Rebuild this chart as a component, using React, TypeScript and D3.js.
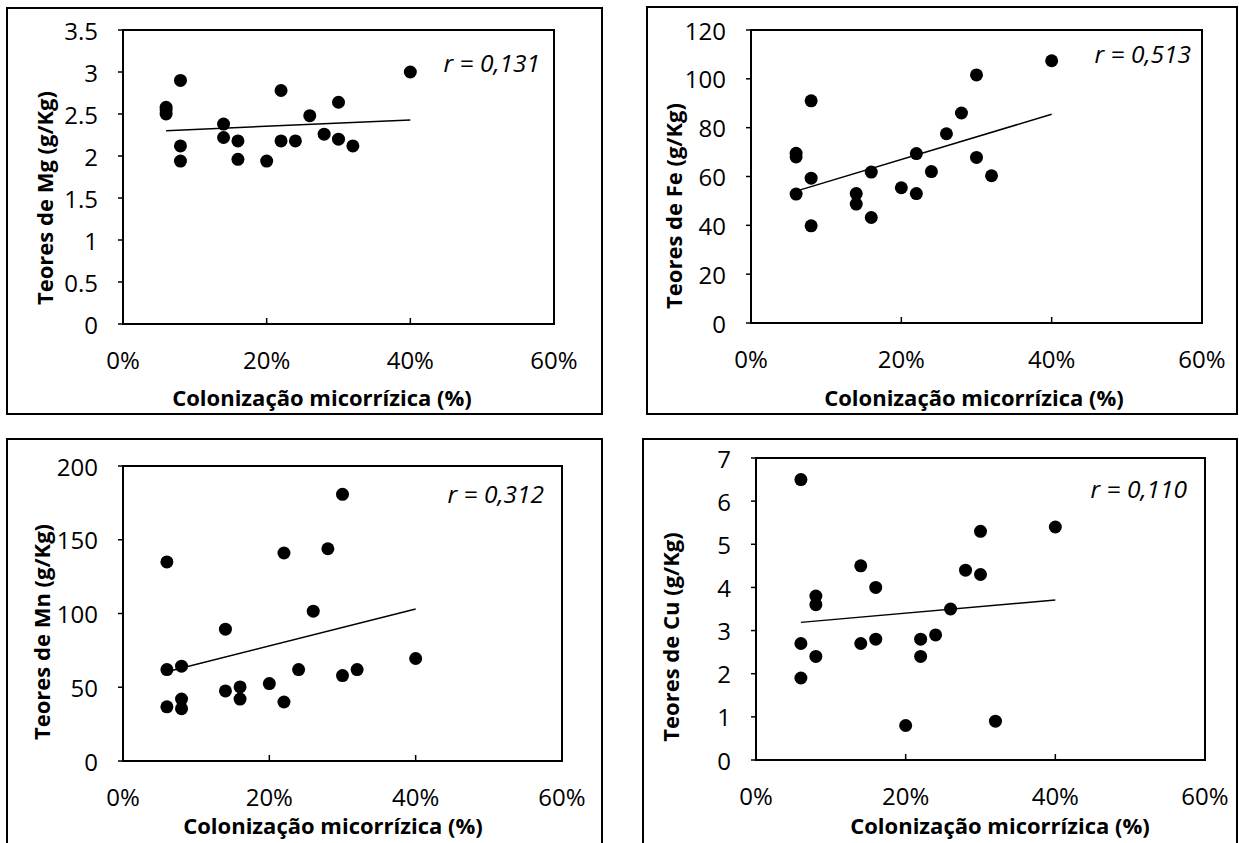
import React from 'react';
import * as d3 from 'd3';

// colonização micorrízica (%), same samples for the four panels
const colonizacao = [6, 6, 6, 8, 8, 8, 14, 14, 16, 16, 20, 22, 22, 24, 26, 28, 30, 30, 32, 40];

const teoresMg = [2.58, 2.55, 2.5, 2.9, 2.12, 1.94, 2.38, 2.22, 2.18, 1.96, 1.94, 2.78, 2.18, 2.18, 2.48, 2.26, 2.64, 2.2, 2.12, 3.0];
const teoresFe = [69.5, 68, 52.8, 91, 59.3, 39.8, 53, 48.7, 61.8, 43.2, 55.4, 69.4, 53, 62, 77.5, 86, 101.6, 67.8, 60.3, 107.4];
const teoresMn = [135, 62, 36.7, 64.3, 42, 35.5, 89.4, 47.5, 50.2, 42, 52.5, 141, 40, 62, 101.6, 143.9, 180.8, 57.9, 62, 69.5];
const teoresCu = [6.5, 2.7, 1.9, 3.8, 3.6, 2.4, 4.5, 2.7, 4.0, 2.8, 0.8, 2.8, 2.4, 2.9, 3.5, 4.4, 5.3, 4.3, 0.9, 5.4];

// linear trend lines, read at 6% and 40%
const trendX = [6, 40];
const trendMg = [2.3, 2.43];
const trendFe = [54, 85.5];
const trendMn = [60.5, 103];
const trendCu = [3.19, 3.71];

const xTicks = [0, 20, 40, 60];
const yTicksMg = [0, 0.5, 1, 1.5, 2, 2.5, 3, 3.5];
const yTicksFe = [0, 20, 40, 60, 80, 100, 120];
const yTicksMn = [0, 50, 100, 150, 200];
const yTicksCu = [0, 1, 2, 3, 4, 5, 6, 7];

const rLabels = ['r = 0,131', 'r = 0,513', 'r = 0,312', 'r = 0,110'];
const yTitles = ['Teores de Mg (g/Kg)', 'Teores de Fe (g/Kg)', 'Teores de Mn (g/Kg)', 'Teores de Cu (g/Kg)'];
const xTitle = 'Colonização micorrízica (%)';

const FONT = '"Open Sans", "Noto Sans", sans-serif';

const panels = [
  {
    values: teoresMg, trend: trendMg, yTicks: yTicksMg, r: rLabels[0], yTitle: yTitles[0],
    box: [7, 8, 602, 414], plot: [123, 554, 30, 324], yt: [44, 198], xt: [322, 397], rl: [540, 62],
  },
  {
    values: teoresFe, trend: trendFe, yTicks: yTicksFe, r: rLabels[1], yTitle: yTitles[1],
    box: [647, 7, 1237, 414], plot: [751, 1202, 30, 323], yt: [673, 206], xt: [974, 397], rl: [1191, 53],
  },
  {
    values: teoresMn, trend: trendMn, yTicks: yTicksMn, r: rLabels[2], yTitle: yTitles[2],
    box: [7, 439, 602, 846], plot: [123, 562, 466, 761], yt: [41, 632], xt: [333, 825], rl: [544, 493],
  },
  {
    values: teoresCu, trend: trendCu, yTicks: yTicksCu, r: rLabels[3], yTitle: yTitles[3],
    box: [643, 439, 1237, 846], plot: [756, 1205, 458, 760], yt: [670, 637], xt: [1000, 825], rl: [1187, 488],
  },
];

function Panel({ p }: { p: any }) {
  const [l, r, t, b] = p.plot;
  const yMax = p.yTicks[p.yTicks.length - 1];
  const x = d3.scaleLinear().domain([0, 60]).range([l, r]);
  const y = d3.scaleLinear().domain([0, yMax]).range([b, t]);
  const line = d3.line<number>()
    .x((_, i) => x(trendX[i]))
    .y((d) => y(d));
  const [bx0, by0, bx1, by1] = p.box;

  return (
    <g>
      <rect x={bx0} y={by0} width={bx1 - bx0} height={by1 - by0} fill="#fff" stroke="#000" strokeWidth={2} />
      <rect x={l} y={t} width={r - l} height={b - t} fill="none" stroke="#000" strokeWidth={2} />

      {p.yTicks.map((v: number) => (
        <g key={'y' + v}>
          <line x1={l - 5} x2={l} y1={y(v)} y2={y(v)} stroke="#000" strokeWidth={1.5} />
          <text x={l - 25} y={y(v)} textAnchor="end" dominantBaseline="central" fontSize={24} fontFamily={FONT} fill="#000">
            {String(v)}
          </text>
        </g>
      ))}

      {xTicks.map((v) => (
        <g key={'x' + v}>
          <line x1={x(v)} x2={x(v)} y1={b} y2={b - 6} stroke="#000" strokeWidth={1.5} />
          <text x={x(v)} y={b + 35} textAnchor="middle" dominantBaseline="central" fontSize={24} fontFamily={FONT} fill="#000">
            {d3.format('.0%')(v / 100)}
          </text>
        </g>
      ))}

      <path d={line(p.trend) || ''} fill="none" stroke="#000" strokeWidth={1.5} />

      {p.values.map((v: number, i: number) => (
        <circle key={i} cx={x(colonizacao[i])} cy={y(v)} r={6.5} fill="#000" />
      ))}

      <text x={p.rl[0]} y={p.rl[1]} textAnchor="end" dominantBaseline="central" fontSize={24.5} fontStyle="italic" fontFamily={FONT} fill="#000">
        {p.r}
      </text>

      <text
        transform={`translate(${p.yt[0]},${p.yt[1]}) rotate(-90)`}
        textAnchor="middle" dominantBaseline="central"
        fontSize={22} fontWeight={700} fontFamily={FONT} fill="#000"
      >
        {p.yTitle}
      </text>
      <text x={p.xt[0]} y={p.xt[1]} textAnchor="middle" dominantBaseline="central" fontSize={22} fontWeight={700} fontFamily={FONT} fill="#000">
        {xTitle}
      </text>
    </g>
  );
}

export default function App() {
  return (
    <svg width={1239} height={843} style={{ position: 'absolute', left: 0, top: 0, background: '#fff' }}>
      {panels.map((p, i) => (
        <Panel key={i} p={p} />
      ))}
    </svg>
  );
}
